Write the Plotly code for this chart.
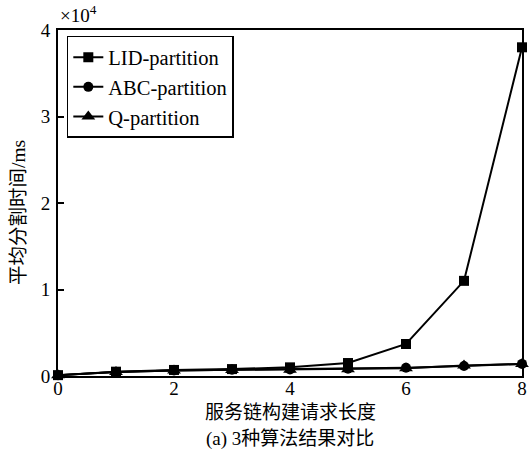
import plotly.graph_objects as go

# Service-chain request length vs. mean partition time (ms)
lengths = [0, 1, 2, 3, 4, 5, 6, 7, 8]
lid_time = [100, 500, 700, 800, 1000, 1500, 3700, 11000, 38000]
abc_time = [100, 450, 650, 720, 750, 850, 950, 1150, 1400]
q_time = [100, 450, 650, 700, 720, 780, 900, 1200, 1400]

y_tickvals = [0, 10000, 20000, 30000, 40000]
y_ticktext = ["0", "1", "2", "3", "4"]
x_tickvals = [0, 2, 4, 6, 8]

FONT = "Liberation Serif, Times New Roman, Noto Sans CJK SC, serif"

series = [
    ("LID-partition", lid_time, "square", 10),
    ("ABC-partition", abc_time, "circle", 10),
    ("Q-partition", q_time, "triangle-up", 12),
]

fig = go.Figure()
for name, vals, sym, size in series:
    fig.add_trace(go.Scatter(
        x=lengths, y=vals, name=name, mode="lines+markers",
        line=dict(color="black", width=2),
        marker=dict(symbol=sym, size=size, color="black"),
        legendgroup=name, cliponaxis=False,
    ))

fig.update_layout(
    width=532, height=456,
    margin=dict(l=58, r=5, t=30, b=80),
    paper_bgcolor="white", plot_bgcolor="white",
    font=dict(family=FONT, size=19, color="black"),
    showlegend=True,
    legend=dict(
        x=0.019, y=0.983, xanchor="left", yanchor="top",
        bordercolor="black", borderwidth=1.5, bgcolor="white",
        font=dict(size=20.5), tracegroupgap=0,
    ),
    xaxis=dict(
        range=[0, 8], tickvals=x_tickvals, showgrid=False, zeroline=False,
        showline=True, linecolor="black", linewidth=2, mirror=True,
        ticks="", ticklen=0, tickfont=dict(size=19), ticklabelstandoff=-6,
    ),
    yaxis=dict(
        range=[0, 40000], tickvals=y_tickvals, ticktext=y_ticktext,
        showgrid=False, zeroline=False,
        showline=True, linecolor="black", linewidth=2, mirror=True,
        ticks="inside", ticklen=6, tickwidth=1.5, tickcolor="black",
        tickfont=dict(size=19), ticklabelstandoff=2,
    ),
    annotations=[
        dict(text="×10<sup>4</sup>", x=0, y=1, xref="paper", yref="paper",
             xanchor="left", yanchor="bottom", yshift=2, showarrow=False,
             font=dict(size=19)),
        dict(text="平均分割时间/ms", x=0, y=0.5, xref="paper", yref="paper",
             xshift=-40, yshift=-10, xanchor="center", yanchor="middle",
             textangle=-90, showarrow=False, font=dict(size=19.5)),
        dict(text="服务链构建请求长度", x=0.5, y=0, xref="paper", yref="paper",
             yshift=-24, xanchor="center", yanchor="top", showarrow=False,
             font=dict(size=19)),
        dict(text="(a) 3种算法结果对比", x=0.5, y=0, xref="paper", yref="paper",
             yshift=-50, xanchor="center", yanchor="top", showarrow=False,
             font=dict(size=19)),
    ],
)

fig.write_html("out.html")
